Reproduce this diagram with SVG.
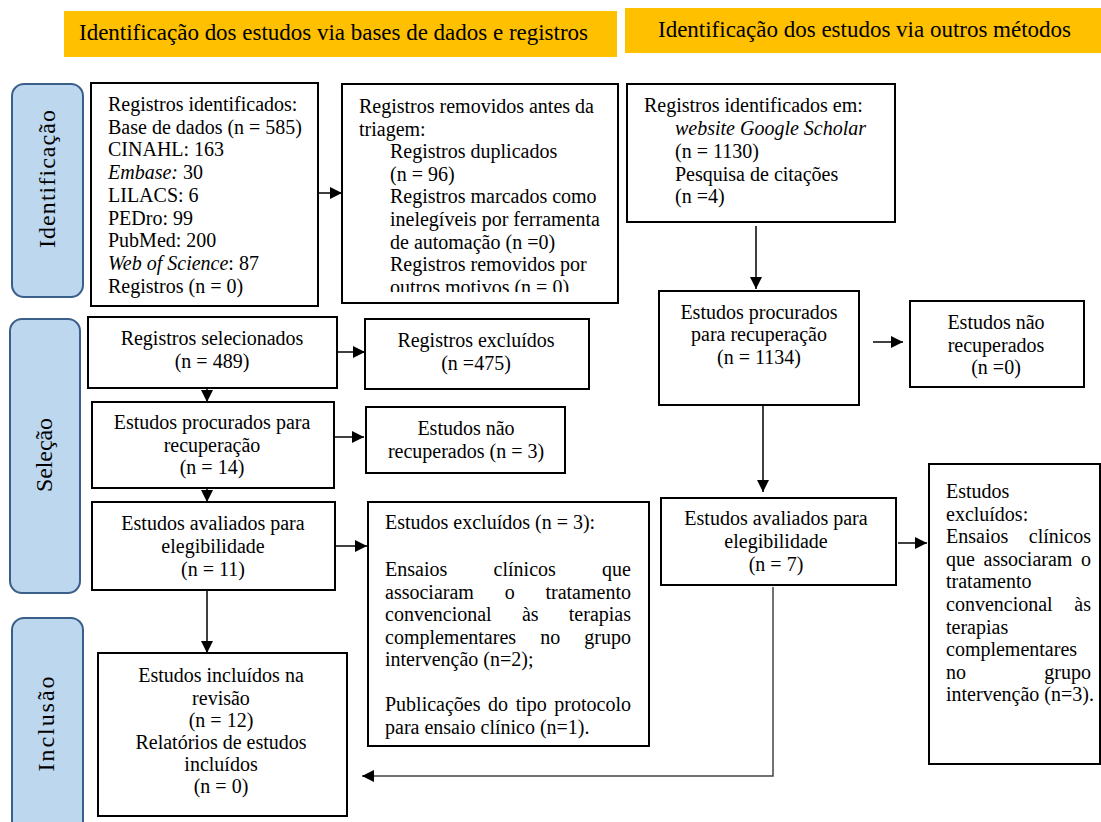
<svg xmlns="http://www.w3.org/2000/svg" width="1101" height="822" viewBox="0 0 1101 822">
<style>
text{font-family:"Liberation Serif","Times New Roman",serif;font-size:20px;fill:#000}
.c{text-anchor:middle}
.e{text-anchor:end}
.i{font-style:italic}
.h{font-size:23px}
.ph{font-size:24px;text-anchor:middle}
.box{fill:#fff;stroke:#000;stroke-width:2}
.phase{fill:#bdd7ee;stroke:#3a5f8a;stroke-width:2}
.hdr{fill:#ffc000}
.conn line,.conn path{stroke:#000;stroke-width:1.5;fill:none;marker-end:url(#ah)}
.conn .g{stroke:#444}
</style>
<defs>
<marker id="ah" markerUnits="userSpaceOnUse" markerWidth="12" markerHeight="12" refX="12" refY="6" orient="auto">
<path d="M0,0 L12,6 L0,12 z" fill="#000"/>
</marker>
<clipPath id="clip2"><rect x="342" y="84" width="276" height="208"/></clipPath>
</defs>
<rect width="1101" height="822" fill="#fff"/>

<g id="header1"><rect class="hdr" x="64" y="11" width="553" height="46"/><text class="h" x="79" y="40" textLength="509" lengthAdjust="spacing">Identificação dos estudos via bases de dados e registros</text></g>
<g id="header2"><rect class="hdr" x="625" y="8" width="476" height="45"/><text class="h" x="658" y="37" textLength="413" lengthAdjust="spacing">Identificação dos estudos via outros métodos</text></g>

<g id="phase-identificacao"><rect class="phase" x="12" y="84" width="71" height="213" rx="12"/><text class="ph" transform="translate(55,179) rotate(-90)" textLength="138" lengthAdjust="spacing">Identificação</text></g>
<g id="phase-selecao"><rect class="phase" x="10" y="319" width="70" height="274" rx="12"/><text class="ph" transform="translate(52,455) rotate(-90)" textLength="74" lengthAdjust="spacing">Seleção</text></g>
<g id="phase-inclusao"><rect class="phase" x="12" y="618" width="71" height="230" rx="12"/><text class="ph" transform="translate(54,724) rotate(-90)" textLength="95" lengthAdjust="spacing">Inclusão</text></g>

<g id="n-registros-identificados"><rect class="box" x="91" y="83" width="227" height="223"/>
<text x="108" y="111">Registros identificados:</text>
<text x="108" y="133.7">Base de dados (n = 585)</text>
<text x="108" y="156.4">CINAHL: 163</text>
<text x="108" y="179.1"><tspan class="i">Embase:</tspan> 30</text>
<text x="108" y="201.8">LILACS: 6</text>
<text x="108" y="224.5">PEDro: 99</text>
<text x="108" y="247.2">PubMed: 200</text>
<text x="108" y="269.9"><tspan class="i">Web of Science</tspan>: 87</text>
<text x="108" y="292.6">Registros (n = 0)</text>
</g>

<g id="n-registros-removidos"><rect class="box" x="342" y="84" width="276" height="219"/>
<g clip-path="url(#clip2)">
<text x="359" y="113">Registros removidos antes da</text>
<text x="359" y="135.6">triagem:</text>
<text x="390" y="158.2">Registros duplicados</text>
<text x="390" y="180.8">(n = 96)</text>
<text x="390" y="203.4">Registros marcados como</text>
<text x="390" y="226">inelegíveis por ferramenta</text>
<text x="390" y="248.6">de automação (n =0)</text>
<text x="390" y="271.2">Registros removidos por</text>
<text x="390" y="293.8">outros motivos (n = 0)</text>
</g>
</g>

<g id="n-registros-outros"><rect class="box" x="627" y="84" width="268" height="138"/>
<text x="644" y="112">Registros identificados em:</text>
<text x="675" y="135" class="i">website Google Scholar</text>
<text x="675" y="157.5">(n = 1130)</text>
<text x="675" y="180.5">Pesquisa de citações</text>
<text x="675" y="203">(n =4)</text>
</g>

<g id="n-procurados-outros"><rect class="box" x="659" y="291" width="200" height="114"/>
<text class="c" x="759" y="318.5">Estudos procurados</text>
<text class="c" x="759" y="341">para recuperação</text>
<text class="c" x="759" y="363.5">(n = 1134)</text>
</g>

<g id="n-nao-recuperados-outros"><rect class="box" x="910" y="301" width="174" height="86"/>
<text class="c" x="996" y="329">Estudos não</text>
<text class="c" x="996" y="351.5">recuperados</text>
<text class="c" x="996" y="374">(n =0)</text>
</g>

<g id="n-registros-selecionados"><rect class="box" x="88" y="317" width="249" height="71"/>
<text class="c" x="212" y="345">Registros selecionados</text>
<text class="c" x="212" y="368">(n = 489)</text>
</g>

<g id="n-registros-excluidos"><rect class="box" x="365" y="319" width="224" height="70"/>
<text class="c" x="476" y="347">Registros excluídos</text>
<text class="c" x="476" y="370">(n =475)</text>
</g>

<g id="n-procurados"><rect class="box" x="92" y="402" width="242" height="86"/>
<text class="c" x="212" y="428.5">Estudos procurados para</text>
<text class="c" x="212" y="451.5">recuperação</text>
<text class="c" x="212" y="474">(n = 14)</text>
</g>

<g id="n-nao-recuperados"><rect class="box" x="366" y="407" width="199" height="66"/>
<text class="c" x="466" y="435">Estudos não</text>
<text class="c" x="466" y="458">recuperados (n = 3)</text>
</g>

<g id="n-avaliados"><rect class="box" x="92" y="502" width="243" height="88"/>
<text class="c" x="213" y="530">Estudos avaliados para</text>
<text class="c" x="213" y="553">elegibilidade</text>
<text class="c" x="213" y="576">(n = 11)</text>
</g>

<g id="n-excluidos"><rect class="box" x="368" y="502" width="281" height="244"/>
<text x="385" y="529">Estudos excluídos (n = 3):</text>
<text y="576"><tspan x="385">Ensaios</tspan><tspan x="493.6">clínicos</tspan><tspan x="631" text-anchor="end">que</tspan></text>
<text y="598.5"><tspan x="385">associaram</tspan><tspan x="504.7">o</tspan><tspan x="631" text-anchor="end">tratamento</tspan></text>
<text y="621"><tspan x="385">convencional</tspan><tspan x="521.9">às</tspan><tspan x="631" text-anchor="end">terapias</tspan></text>
<text y="643.5"><tspan x="385">complementares</tspan><tspan x="540.2">no</tspan><tspan x="631" text-anchor="end">grupo</tspan></text>
<text x="385" y="666">intervenção (n=2);</text>
<text y="711"><tspan x="385">Publicações</tspan><tspan x="488.1">do</tspan><tspan x="515.7">tipo</tspan><tspan x="631" text-anchor="end">protocolo</tspan></text>
<text x="385" y="733.5">para ensaio clínico (n=1).</text>
</g>

<g id="n-avaliados-outros"><rect class="box" x="661" y="498" width="235" height="87"/>
<text class="c" x="776" y="525">Estudos avaliados para</text>
<text class="c" x="776" y="548">elegibilidade</text>
<text class="c" x="776" y="570.5">(n = 7)</text>
</g>

<g id="n-excluidos-outros"><rect class="box" x="929" y="464" width="171" height="300"/>
<text x="946" y="498">Estudos</text>
<text x="946" y="520.6">excluídos:</text>
<text y="543.2"><tspan x="946">Ensaios</tspan><tspan x="1091" text-anchor="end">clínicos</tspan></text>
<text y="565.8"><tspan x="946">que</tspan><tspan x="983.5">associaram</tspan><tspan x="1091" text-anchor="end">o</tspan></text>
<text x="946" y="588.4">tratamento</text>
<text y="611"><tspan x="946">convencional</tspan><tspan x="1091" text-anchor="end">às</tspan></text>
<text x="946" y="633.6">terapias</text>
<text x="946" y="656.2">complementares</text>
<text y="678.8"><tspan x="946">no</tspan><tspan x="1091" text-anchor="end">grupo</tspan></text>
<text x="946" y="701.4">intervenção (n=3).</text>
</g>

<g id="n-incluidos"><rect class="box" x="98" y="653" width="249" height="163"/>
<text class="c" x="221" y="682">Estudos incluídos na</text>
<text class="c" x="221" y="704.5">revisão</text>
<text class="c" x="221" y="726.5">(n = 12)</text>
<text class="c" x="221" y="748.5">Relatórios de estudos</text>
<text class="c" x="221" y="771">incluídos</text>
<text class="c" x="221" y="793">(n = 0)</text>
</g>

<g id="connectors" class="conn">
<line x1="318" y1="193" x2="342" y2="193"/>
<line x1="756" y1="226" x2="756" y2="289"/>
<line x1="873" y1="342" x2="903" y2="342"/>
<line x1="337" y1="352" x2="365" y2="352"/>
<line x1="207" y1="388" x2="207" y2="402"/>
<line x1="334" y1="437" x2="364" y2="437"/>
<line x1="207" y1="488" x2="207" y2="502"/>
<line x1="335" y1="546" x2="367" y2="546"/>
<line x1="207" y1="590" x2="207" y2="653"/>
<line x1="763" y1="405" x2="763" y2="492"/>
<line x1="898" y1="543" x2="927" y2="543"/>
<path class="g" d="M773,587 L773,776 L362,776"/>
</g>
</svg>
